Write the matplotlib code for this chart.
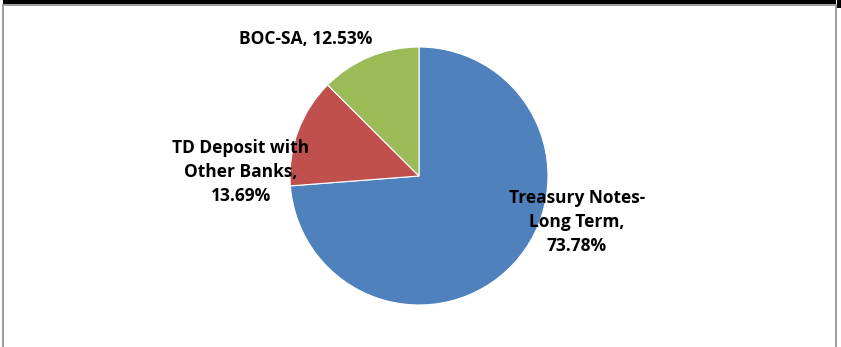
import matplotlib.pyplot as plt
from matplotlib.patches import Rectangle

labels = ["Treasury Notes-\nLong Term,\n73.78%", "TD Deposit with\nOther Banks,\n13.69%", "BOC-SA, 12.53%"]
shares = [73.78, 13.69, 12.53]
colors = ["#4F81BD", "#C0504D", "#9BBB59"]

W, H = 841, 347
CX, CY, R = 419, 176, 129  # pie centre and radius in pixels

fig = plt.figure(figsize=(W / 100, H / 100), dpi=100)
fig.patch.set_facecolor("white")

# black strip at top and grey frame of the chart box
fig.patches.append(Rectangle((3 / W, (H - 4) / H), (W - 3) / W, 4 / H,
                             transform=fig.transFigure, facecolor="black", edgecolor="none"))
fig.patches.append(Rectangle((836 / W, 0), 5 / W, 1,
                             transform=fig.transFigure, facecolor="white", edgecolor="none"))
fig.patches.append(Rectangle((837 / W, (H - 8) / H), 4 / W, 8 / H,
                             transform=fig.transFigure, facecolor="black", edgecolor="none"))
fig.patches.append(Rectangle((2.5 / W, -0.01), 833.5 / W, (H - 4.5) / H + 0.01,
                             transform=fig.transFigure, facecolor="none",
                             edgecolor="#8c8c8c", linewidth=1.2))

ax = fig.add_axes([0, 0, 1, 1])
ax.pie(shares, colors=colors, startangle=90, counterclock=False,
       wedgeprops=dict(edgecolor="white", linewidth=0.8))
ax.set_aspect("auto")
ax.set_xlim(-CX / R, (W - CX) / R)
ax.set_ylim(-(H - CY) / R, CY / R)
ax.axis("off")

label_pos = [(1.225, -0.357), (-1.380, 0.031), (-0.876, 1.062)]
for text, (x, y) in zip(labels, label_pos):
    ax.text(x, y, text, ha="center", va="center", multialignment="center",
            fontsize=12.5, fontweight="bold", family="Open Sans", linespacing=1.45)

fig.savefig("out.png", dpi=100)
